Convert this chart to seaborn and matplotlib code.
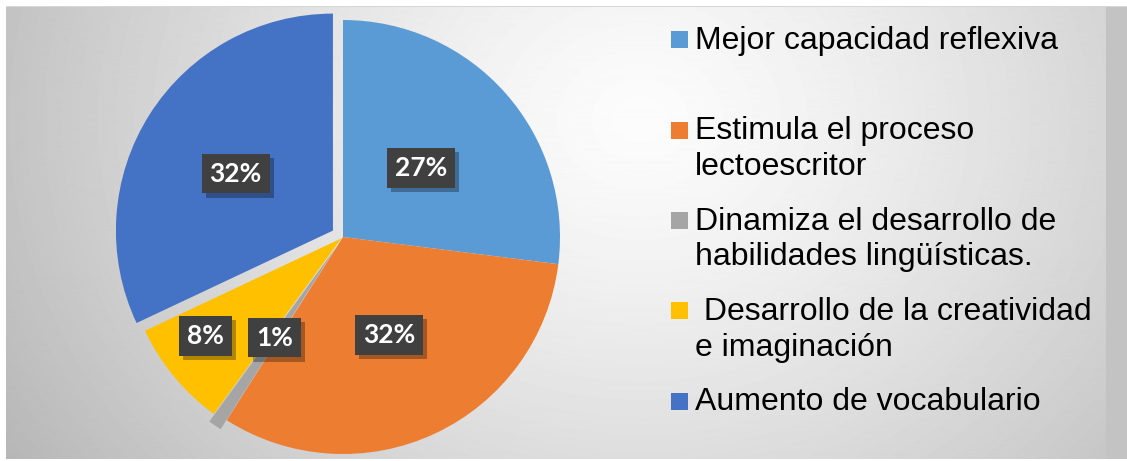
import numpy as np
import matplotlib
matplotlib.use("Agg")
import matplotlib.pyplot as plt
import seaborn as sns
from matplotlib.patches import Rectangle
import matplotlib.patheffects as pe

# data
categories = [
    "Mejor capacidad reflexiva",
    "Estimula el proceso\nlectoescritor",
    "Dinamiza el desarrollo de\nhabilidades lingüísticas.",
    " Desarrollo de la creatividad\ne imaginación",
    "Aumento de vocabulario",
]
percentages = [27, 32, 1, 8, 32]
pct_labels = ["27%", "32%", "1%", "8%", "32%"]
colors = sns.color_palette(["#5B9BD5", "#ED7D31", "#A5A5A5", "#FFC000", "#4472C4"])

sns.set_theme(style="white")
plt.rcParams["font.family"] = ["Liberation Sans", "DejaVu Sans"]

W, H = 1127, 461
fig = plt.figure(figsize=(W / 100, H / 100), dpi=100)

# background: radial grey gradient, white margins, grey strip at right
bg = fig.add_axes([0, 0, 1, 1])
yy, xx = np.mgrid[0:H, 0:W]
d = np.hypot((xx - 640) / 1.0, (yy - 120) / 0.85)
val = 252 - 58 * np.clip(d / 650, 0, 1.3) ** 1.3
img = np.clip(val, 180, 255) / 255.0
img[:, 1106:] = 0xC4 / 255.0
img[:8, :] = 1.0
img[7, :] = 0xD6 / 255.0
img[:, :6] = 1.0
img[459:, :] = 1.0
bg.imshow(img, cmap="gray", vmin=0, vmax=1, extent=(0, W, H, 0), aspect="auto")
bg.set_xlim(0, W)
bg.set_ylim(H, 0)
bg.axis("off")

# pie axes: centre at (343, 237) px, radius ~217 px
L = 1.1
R = 217
S = 2 * L * R
cx, cy = 343, H - 237
ax = fig.add_axes([(cx - S / 2) / W, (cy - S / 2) / H, S / W, S / H])
ax.patch.set_alpha(0)
wedges, _ = ax.pie(
    percentages,
    colors=colors,
    startangle=90,
    counterclock=False,
    explode=[0, 0, 0.05, 0.01, 0.055],
    wedgeprops=dict(linewidth=0),
)
ax.set_xlim(-L, L)
ax.set_ylim(-L, L)
ax.set_aspect("equal")
ax.axis("off")

# percentage labels in dark boxes with a soft shadow
label_dist = [0.48, 0.5, 0.51, 0.77, 0.52]
label_turn = [0, 0, 0, -4, 2]  # degrees, small nudges off the mid angle
for w, lab, r, turn in zip(wedges, pct_labels, label_dist, label_turn):
    mid = np.deg2rad((w.theta1 + w.theta2) / 2 + turn)
    x = w.center[0] + r * np.cos(mid)
    y = w.center[1] + r * np.sin(mid)
    t = ax.text(x, y, lab, ha="center", va="center", fontsize=19, fontweight="bold",
                family="Lato", color="white",
                bbox=dict(boxstyle="square,pad=0.3", fc="#404040", ec="none"))
    t.get_bbox_patch().set_path_effects(
        [pe.SimplePatchShadow(offset=(3, -3), shadow_rgbFace="black", alpha=0.3), pe.Normal()])

# legend: fixed slots, multi-line text top aligned
for i, (cat, col) in enumerate(zip(categories, colors)):
    yc = 40 + 90.3 * i
    bg.add_patch(Rectangle((671, yc - 8.5), 17, 17, facecolor=col, edgecolor="none"))
    bg.text(695, yc - 14, cat, ha="left", va="top", fontsize=23, color="black",
            linespacing=1.25)

fig.savefig("out.png", dpi=100)
